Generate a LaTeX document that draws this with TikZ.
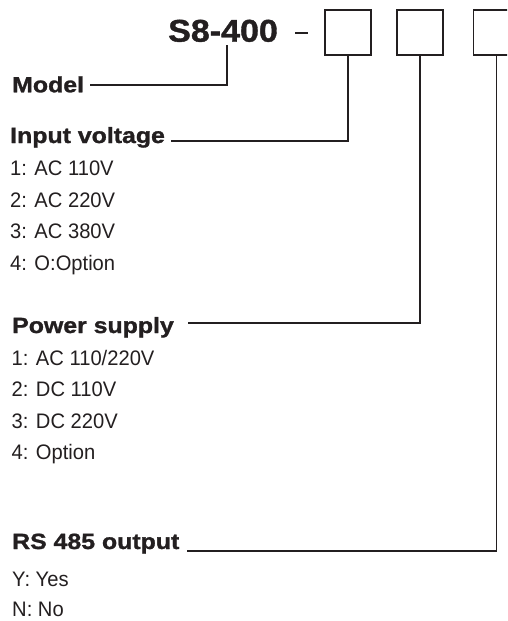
\documentclass[tikz,border=0pt]{standalone}
\usepackage{fontspec}
\setmainfont[FakeStretch=0.96]{Liberation Sans}
\newfontfamily\hbold[FakeStretch=1.13,FakeBold=1.2]{Liberation Sans Bold}
\newfontfamily\tbold[FakeStretch=1.08,FakeBold=1.2]{Liberation Sans Bold}
\definecolor{ink}{HTML}{231F20}
\begin{document}
\begin{tikzpicture}[x=1pt,y=-1pt,
  ln/.style={draw=ink,line width=1.2pt},
  digit/.style={draw=ink,line width=1.2pt,minimum width=46pt,minimum height=45pt,inner sep=0pt},
  head/.style={anchor=base west,inner sep=0pt,text=ink,font=\hbold\fontsize{22}{26}\selectfont},
  item/.style={anchor=base west,inner sep=0pt,text=ink,font=\fontsize{21}{25}\selectfont}]
\clip (0,0) rectangle (507,621);
\fill[white] (0,0) rectangle (507,621);
% title
\node[anchor=base west,inner sep=0pt,text=ink,font=\tbold\fontsize{31.5}{36}\selectfont] (title) at (168,41.7) {S8-400};
\node[anchor=west,inner sep=0pt,fill=ink,minimum width=13pt,minimum height=1.8pt] (dash) at (295,33) {};
\node[digit] (b1) at (348,32.5) {};
\node[digit] (b2) at (420,32.5) {};
\node[digit] (b3) at (496.5,32.5) {};
% model
\node[head] (model) at (12,92.3) {Model};
\coordinate (m4) at (227,45);
\coordinate (mL) at (90,85);
\draw[ln] (mL) -| (m4);
% input voltage
\node[head] (inp) at (10,143) {Input voltage};
\coordinate (iv) at (171,141);
\draw[ln] (b1.south) |- (iv);
\node[item] (i1) at (10,175.7) {1: AC 110V};
\node[item] (i2) at (10,207.2) {2: AC 220V};
\node[item] (i3) at (10,238.8) {3: AC 380V};
\node[item] (i4) at (10,270.6) {4: O:Option};
% power supply
\node[head] (pow) at (12,333) {Power supply};
\coordinate (ps) at (188,323);
\draw[ln] (b2.south) |- (ps);
\node[item] (p1) at (11.5,365.7) {1: AC 110/220V};
\node[item] (p2) at (11.5,396.9) {2: DC 110V};
\node[item] (p3) at (11.5,428.0) {3: DC 220V};
\node[item] (p4) at (11.5,459.3) {4: Option};
% RS 485
\node[head] (rs) at (12,549) {RS 485 output};
\coordinate (ro) at (187,551);
\draw[ln] (b3.south) |- (ro);
\node[item] (r1) at (12,586.7) {Y: Yes};
\node[item] (r2) at (12,616.7) {N: No};
\end{tikzpicture}
\end{document}
